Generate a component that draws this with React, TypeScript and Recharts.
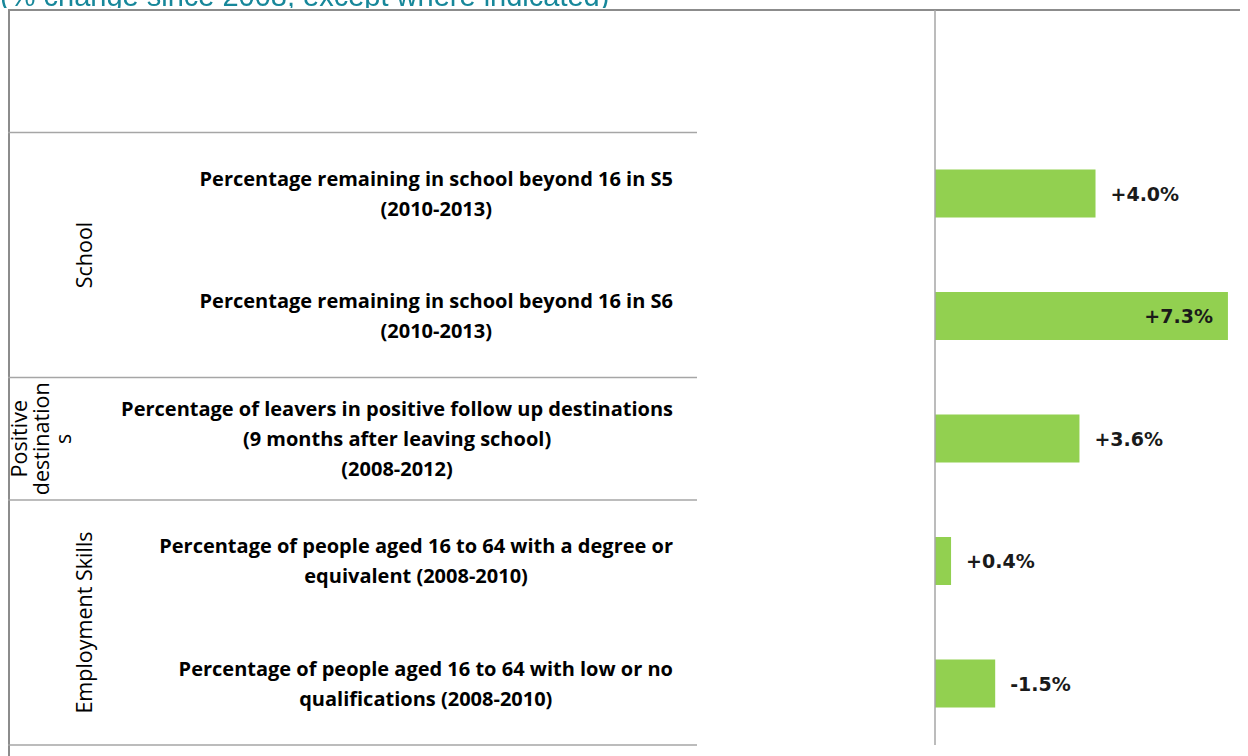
import React from "react";
import { BarChart, Bar, XAxis, YAxis, LabelList } from "recharts";

// chart text
const TITLE = "(% change since 2008, except where indicated)";

// one entry per row of the table; the first row is left empty in the original
const categories: string[][] = [
  [],
  ["Percentage remaining in school beyond 16 in S5", "(2010-2013)"],
  ["Percentage remaining in school beyond 16 in S6", "(2010-2013)"],
  [
    "Percentage of leavers in positive follow up destinations",
    "(9 months after leaving school)",
    "(2008-2012)",
  ],
  ["Percentage of people aged 16 to 64 with a degree or", "equivalent (2008-2010)"],
  ["Percentage of people aged 16 to 64 with low or no", "qualifications (2008-2010)"],
];

const groups: string[][] = [
  [],
  ["School"],
  ["School"],
  ["Positive", "destination", "s"],
  ["Employment Skills"],
  ["Employment Skills"],
];

const values: (number | null)[] = [null, 4.0, 7.3, 3.6, 0.4, 1.5];
const valueLabels = ["", "+4.0%", "+7.3%", "+3.6%", "+0.4%", "-1.5%"];

const data = categories.map((lines, i) => ({
  key: lines.join(" ") || "blank",
  value: values[i],
  label: valueLabels[i],
}));

// layout
const W = 1248;
const H = 756;
const TOP = 10;
const BOTTOM = 745;
const AXIS_X = 935;
const BAND = (BOTTOM - TOP) / categories.length;
const TEXT_RIGHT = 673;
const FRAME_LEFT = 8;
const SEP_RIGHT = 697;

const CAT_SIZE = 20;
const CAT_FONT = `bold ${CAT_SIZE}px 'Open Sans'`;
const GROUP_SIZE = 21.5;
const VAL_SIZE = 19;
const VAL_FONT = `bold ${VAL_SIZE}px 'DejaVu Sans'`;

let ctx: CanvasRenderingContext2D | null = null;
function measure(text: string, font: string) {
  if (!ctx) ctx = document.createElement("canvas").getContext("2d");
  if (!ctx) return text.length * 9;
  ctx.font = font;
  return ctx.measureText(text).width;
}

const sameGroup = (a: number, b: number) =>
  a >= 0 && b < groups.length && groups[a].join("|") === groups[b].join("|");

const CategoryTick = (props: any) => {
  const { y, index } = props;
  const lines = categories[index] || [];
  const blockW = Math.max(0, ...lines.map((l) => measure(l, CAT_FONT)));
  const cx = TEXT_RIGHT - blockW / 2;
  const lineH = 30;
  const first = y + 7 - ((lines.length - 1) * lineH) / 2;

  const items: React.ReactNode[] = [];
  const top = y - BAND / 2;

  if (index > 0 && !sameGroup(index - 1, index)) {
    items.push(
      <line key="sep" x1={FRAME_LEFT} x2={SEP_RIGHT} y1={top} y2={top} stroke="#a6a6a6" strokeWidth={1.5} />
    );
    let n = 1;
    while (sameGroup(index, index + n)) n++;
    const gy = top + (n * BAND) / 2;
    const gl = groups[index];
    gl.forEach((t, k) => {
      // baseline of each rotated line, counted from the right-most one
      const lx = gl.length > 1 ? 71 - (gl.length - 1 - k) * 22 : 92;
      items.push(
        <text
          key={"g" + k}
          x={lx}
          y={gy}
          transform={`rotate(-90, ${lx}, ${gy})`}
          textAnchor="middle"
          fontFamily="Open Sans"
          fontSize={GROUP_SIZE}
          fill="#000"
        >
          {t}
        </text>
      );
    });
  }
  if (index === categories.length - 1) {
    const b = y + BAND / 2;
    items.push(
      <line key="last" x1={FRAME_LEFT} x2={SEP_RIGHT} y1={b} y2={b} stroke="#a6a6a6" strokeWidth={1.5} />
    );
  }

  return (
    <g>
      {items}
      {lines.map((l, k) => (
        <text
          key={k}
          x={cx}
          y={first + k * lineH}
          textAnchor="middle"
          fontFamily="Open Sans"
          fontWeight="bold"
          fontSize={CAT_SIZE}
          fill="#000"
        >
          {l}
        </text>
      ))}
    </g>
  );
};

const ValueLabel = (props: any) => {
  const { x, y, width, height, value } = props;
  if (!value) return null;
  const text = String(value);
  const tw = measure(text, VAL_FONT);
  const end = x + width;
  const inside = end + 15 + tw > W - 4;
  return (
    <text
      x={inside ? end - 15 : end + 15}
      y={y + height / 2}
      textAnchor={inside ? "end" : "start"}
      dominantBaseline="central"
      fontFamily="DejaVu Sans"
      fontWeight="bold"
      fontSize={VAL_SIZE}
      fill="#1a1a1a"
    >
      {text}
    </text>
  );
};

export default function App() {
  return (
    <div style={{ position: "relative", margin: "-8px 0 0 -8px", width: W, height: H, background: "#fff" }}>
      <BarChart
        width={W}
        height={H}
        data={data}
        layout="vertical"
        margin={{ top: TOP, right: 0, bottom: H - BOTTOM, left: 0 }}
      >
        <line x1={FRAME_LEFT} x2={W} y1={TOP} y2={TOP} stroke="#8c8c8c" strokeWidth={2} />
        <line x1={FRAME_LEFT + 1} x2={FRAME_LEFT + 1} y1={TOP} y2={H} stroke="#8c8c8c" strokeWidth={2} />
        <XAxis type="number" hide domain={[0, 7.8]} />
        <YAxis
          type="category"
          dataKey="key"
          width={AXIS_X}
          interval={0}
          tickLine={false}
          axisLine={{ stroke: "#a6a6a6", strokeWidth: 1.5 }}
          tick={<CategoryTick />}
        />
        <Bar dataKey="value" fill="#92d050" barSize={48} isAnimationActive={false}>
          <LabelList dataKey="label" content={<ValueLabel />} />
        </Bar>
      </BarChart>
      {/* title sits in the page's top margin strip, only its lower half shows */}
      <svg
        width={700}
        height={8}
        style={{ position: "fixed", left: 0, top: 0, pointerEvents: "none" }}
      >
        <text x={0} y={6} fontFamily="Liberation Sans" fontSize={29} fill="#17879a">
          {TITLE}
        </text>
      </svg>
    </div>
  );
}
